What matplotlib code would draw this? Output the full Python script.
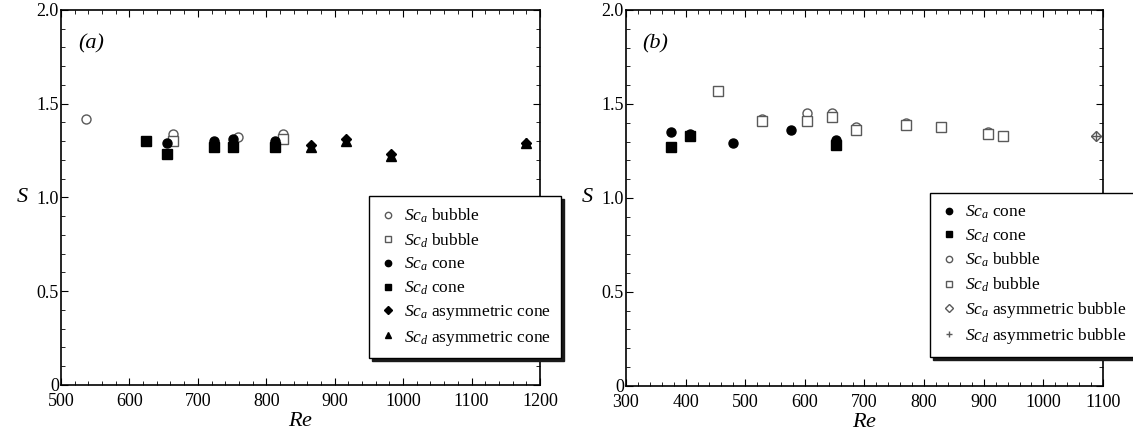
import matplotlib
matplotlib.use('Agg')
import matplotlib.pyplot as plt
from matplotlib.ticker import MultipleLocator

plt.rcParams['font.family'] = ['Liberation Serif', 'DejaVu Serif']
plt.rcParams['mathtext.fontset'] = 'custom'
plt.rcParams['mathtext.rm'] = 'Liberation Serif'
plt.rcParams['mathtext.it'] = 'Liberation Serif:italic'

# ---- panel (a) data ----
a_sca_bubble_re = [537, 663, 759, 825]
a_sca_bubble_s = [1.42, 1.34, 1.32, 1.34]
a_scd_bubble_re = [663, 825]
a_scd_bubble_s = [1.30, 1.31]
a_sca_cone_re = [655, 723, 752, 813]
a_sca_cone_s = [1.29, 1.30, 1.31, 1.30]
a_scd_cone_re = [625, 655, 723, 752, 813]
a_scd_cone_s = [1.30, 1.23, 1.27, 1.27, 1.27]
a_sca_asym_re = [866, 916, 982, 1180]
a_sca_asym_s = [1.28, 1.31, 1.23, 1.29]
a_scd_asym_re = [866, 916, 982, 1180]
a_scd_asym_s = [1.27, 1.30, 1.22, 1.29]

# ---- panel (b) data ----
b_sca_cone_re = [375, 407, 480, 576, 653]
b_sca_cone_s = [1.35, 1.34, 1.29, 1.36, 1.31]
b_scd_cone_re = [375, 407, 653]
b_scd_cone_s = [1.27, 1.33, 1.28]
b_sca_bubble_re = [528, 603, 646, 685, 770, 907]
b_sca_bubble_s = [1.42, 1.45, 1.45, 1.38, 1.40, 1.35]
b_scd_bubble_re = [455, 528, 603, 646, 685, 770, 828, 907, 933]
b_scd_bubble_s = [1.57, 1.41, 1.41, 1.43, 1.36, 1.39, 1.38, 1.34, 1.33]
b_sca_asym_re = [1088]
b_sca_asym_s = [1.33]
b_scd_asym_re = [1088]
b_scd_asym_s = [1.33]

fig = plt.figure(figsize=(11.33, 4.44), dpi=100)
ax1 = fig.add_axes([0.0538, 0.133, 0.4228, 0.8445])
ax2 = fig.add_axes([0.5525, 0.131, 0.421, 0.8465])

filled = dict(color='black', linestyle='none', markersize=6.5)
hollow = dict(color='0.35', markerfacecolor='white', linestyle='none',
              markersize=6.5, markeredgewidth=1.0)

# panel (a)
ax1.plot(a_sca_bubble_re, a_sca_bubble_s, marker='o', label=r'$Sc_a$ bubble', **hollow)
ax1.plot(a_scd_bubble_re, a_scd_bubble_s, marker='s', label=r'$Sc_d$ bubble', **hollow)
ax1.plot(a_sca_cone_re, a_sca_cone_s, marker='o', label=r'$Sc_a$ cone', **filled)
ax1.plot(a_scd_cone_re, a_scd_cone_s, marker='s', label=r'$Sc_d$ cone', **filled)
ax1.plot(a_sca_asym_re, a_sca_asym_s, marker='D', label=r'$Sc_a$ asymmetric cone',
         color='black', linestyle='none', markersize=5.5)
ax1.plot(a_scd_asym_re, a_scd_asym_s, marker='^', label=r'$Sc_d$ asymmetric cone', **filled)

# panel (b)
ax2.plot(b_sca_cone_re, b_sca_cone_s, marker='o', label=r'$Sc_a$ cone', **filled)
ax2.plot(b_scd_cone_re, b_scd_cone_s, marker='s', label=r'$Sc_d$ cone', **filled)
ax2.plot(b_sca_bubble_re, b_sca_bubble_s, marker='o', label=r'$Sc_a$ bubble', **hollow)
ax2.plot(b_scd_bubble_re, b_scd_bubble_s, marker='s', label=r'$Sc_d$ bubble', **hollow)
ax2.plot(b_sca_asym_re, b_sca_asym_s, marker='D', label=r'$Sc_a$ asymmetric bubble',
         color='0.35', markerfacecolor='white', linestyle='none', markersize=5.5)
ax2.plot(b_scd_asym_re, b_scd_asym_s, marker='+', label=r'$Sc_d$ asymmetric bubble',
         color='0.35', linestyle='none', markersize=6.5)

for ax, xlim, tag, anchor in [(ax1, (500, 1200), '(a)', (0.643, 0.072)),
                              (ax2, (300, 1100), '(b)', (0.637, 0.077))]:
    ax.set_xlim(*xlim)
    ax.set_ylim(0, 2.0)
    ax.xaxis.set_major_locator(MultipleLocator(100))
    ax.xaxis.set_minor_locator(MultipleLocator(20))
    ax.yaxis.set_minor_locator(MultipleLocator(0.1))
    ax.set_yticks([0, 0.5, 1.0, 1.5, 2.0])
    ax.set_yticklabels(['0', '0.5', '1.0', '1.5', '2.0'])
    ax.tick_params(which='both', direction='in', top=True, right=True,
                   labelsize=13)
    ax.tick_params(axis='x', which='major', pad=6)
    ax.tick_params(axis='y', which='major', pad=1.5)
    ax.tick_params(which='major', length=5)
    ax.tick_params(which='minor', length=3)
    for sp in ax.spines.values():
        sp.set_linewidth(1.2)
    ax.set_xlabel(r'$Re$', fontsize=16, labelpad=1)
    ax.set_ylabel(r'$S$', fontsize=16, rotation=0, labelpad=10, va='center')
    ax.text(0.035, 0.91, tag, transform=ax.transAxes, fontsize=16,
            style='italic', va='center')
    ax.legend(loc='lower left', bbox_to_anchor=anchor, borderaxespad=0,
              fontsize=12.5, markerscale=0.7, handlelength=1.0,
              handletextpad=0.4, labelspacing=0.36, borderpad=0.6,
              fancybox=False, framealpha=1, edgecolor='black',
              shadow={'color': '0.1', 'alpha': 1})
    ax.get_legend().get_frame().set_linewidth(1.0)

fig.savefig('out.png', dpi=100)
